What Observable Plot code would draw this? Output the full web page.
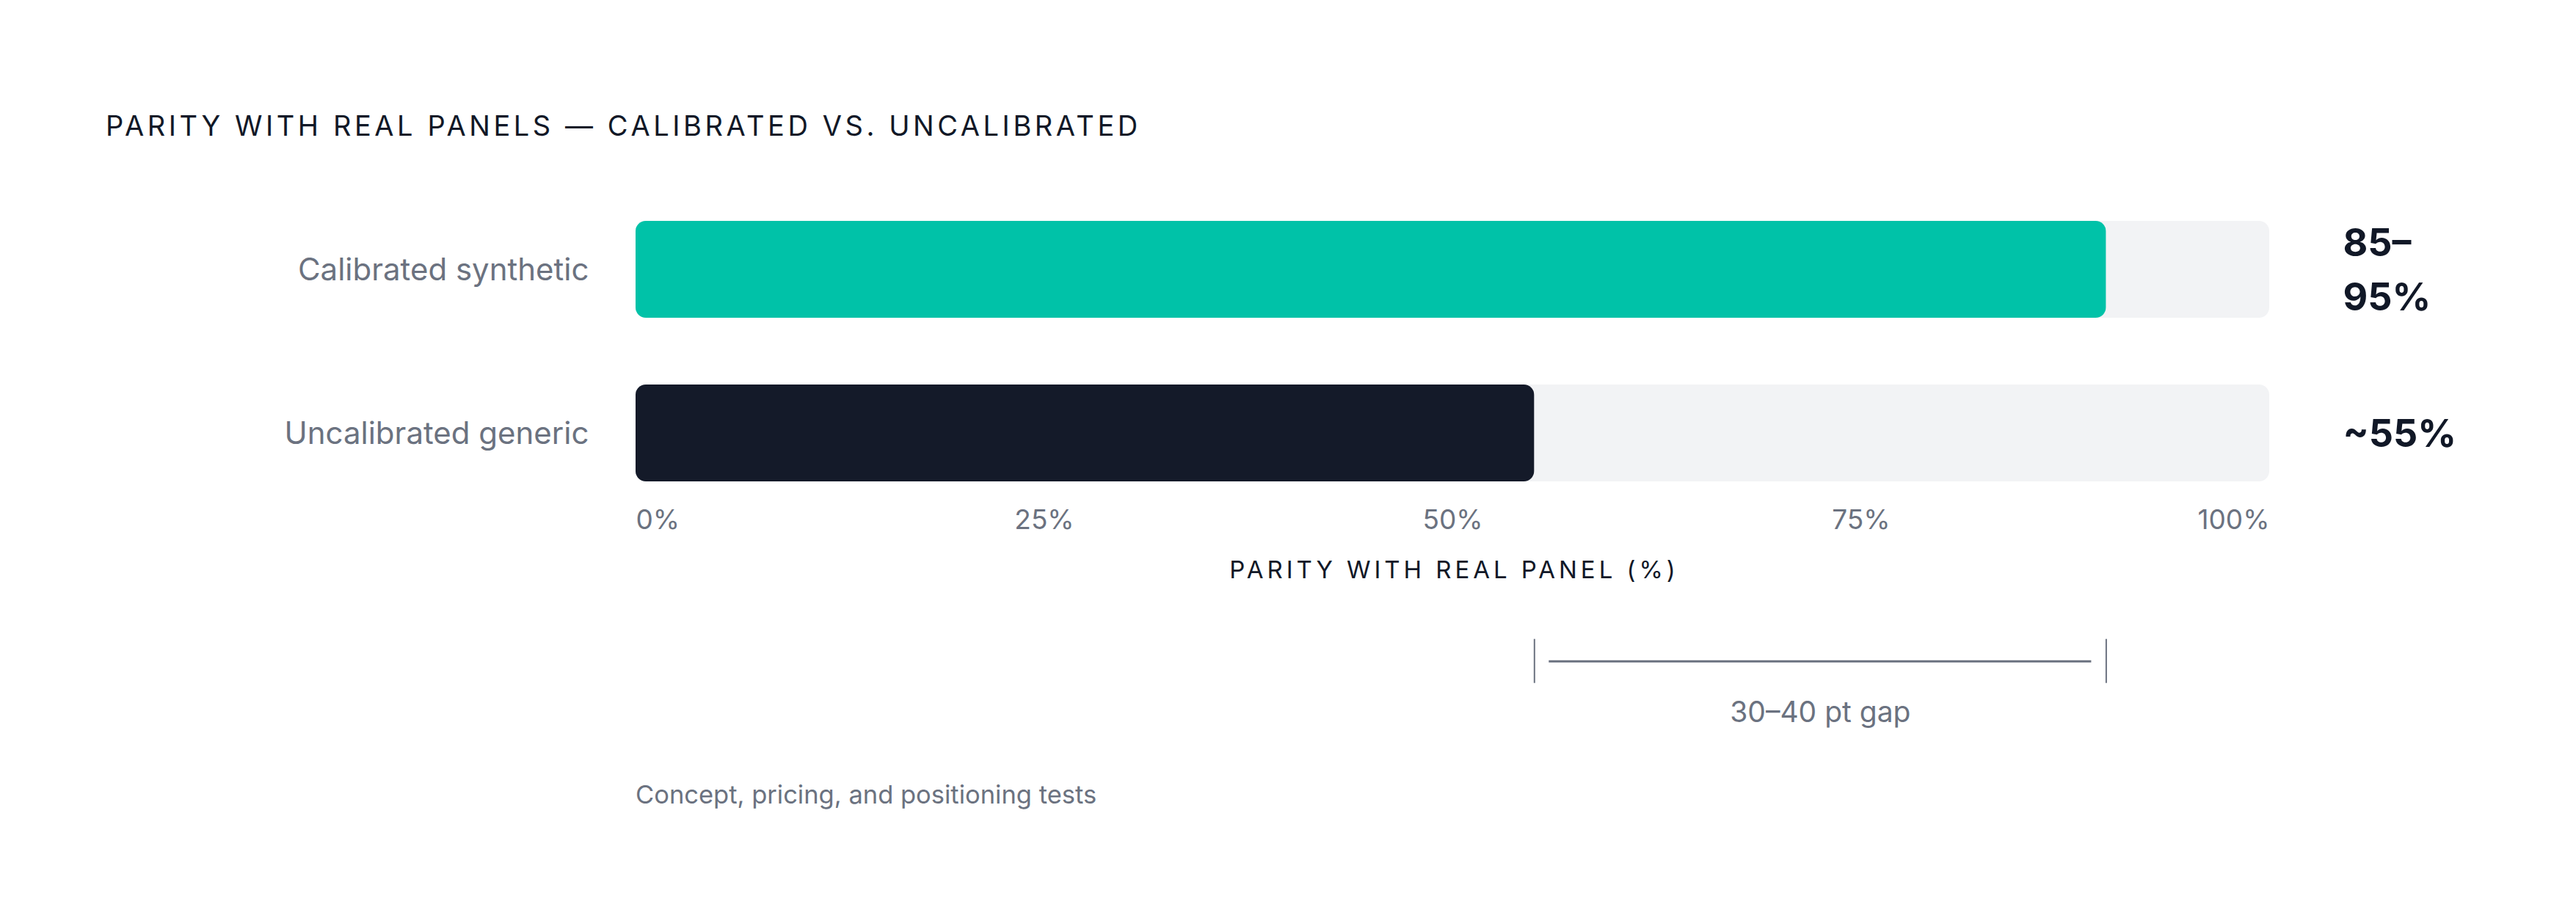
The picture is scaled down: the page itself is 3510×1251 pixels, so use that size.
<!DOCTYPE html>
<html>
<head>
<meta charset="utf-8">
<script src="https://cdn.jsdelivr.net/npm/d3@7"></script>
<script src="https://cdn.jsdelivr.net/npm/@observablehq/plot@0.6"></script>
<style>
  html, body { margin: 0; padding: 0; background: #ffffff; }
  body { width: 3510px; height: 1251px; overflow: hidden; font-family: Inter, "Noto Sans", sans-serif; }
  #title { box-sizing: border-box; height: 200px; padding-top: 151.5px; padding-left: 144px;
           font-size: 38px; line-height: 38px; letter-spacing: 0.12em; color: #111827; font-weight: 400; white-space: nowrap; }
  #chart svg, #gap svg { display: block; }
  #caption { margin-top: 47.4px; padding-left: 866px; font-size: 34.5px; line-height: 32px; color: #6B7280; white-space: nowrap; }
  [aria-label="axis title"], [aria-label="axis title"] text, text[aria-label="axis title"] { letter-spacing: 0.15em; }
</style>
</head>
<body>
<div id="title"></div>
<div id="chart"></div>
<div id="gap"></div>
<div id="caption"></div>
<script>
const titleText = "PARITY WITH REAL PANELS — CALIBRATED VS. UNCALIBRATED";
const categories = ["Calibrated synthetic", "Uncalibrated generic"];
const values = [90, 55];
const valueLabels = ["85–95%", "~55%"];
const barColors = ["#00C2A8", "#141A29"];
const tickValues = [0, 25, 50, 75, 100];
const tickLabels = ["0%", "25%", "50%", "75%", "100%"];
const axisLabel = "PARITY WITH REAL PANEL (%)";
const gapLabel = "30–40 pt gap";
const captionText = "Concept, pricing, and positioning tests";

document.getElementById("title").textContent = titleText;
document.getElementById("caption").textContent = captionText;

const scaleMax = 100;
const W = 3510, ML = 866, MR = 418;
const data = categories.map((c, i) => ({category: c, value: values[i], label: valueLabels[i], max: scaleMax}));
const ticks = tickValues.map((v, i) => ({v, t: tickLabels[i]}));
const font = "Inter, 'Noto Sans', sans-serif";

const chart = Plot.plot({
  width: W, height: 620,
  marginLeft: ML, marginRight: MR, marginTop: 100, marginBottom: 164,
  style: {fontFamily: font, background: "transparent", overflow: "visible"},
  x: {domain: [0, scaleMax], axis: null},
  y: {type: "band", domain: categories, paddingInner: 0.41, paddingOuter: 0, axis: null},
  color: {domain: categories, range: barColors},
  marks: [
    Plot.barX(data, {y: "category", x1: 0, x2: "max", fill: "#F2F3F5", rx: 14}),
    Plot.barX(data, {y: "category", x1: 0, x2: "value", fill: "category", rx: 14}),
    Plot.text(data, {y: "category", text: "category", frameAnchor: "left", dx: -64, dy: 1, textAnchor: "end",
                     fontSize: 42, fill: "#6B7280"}),
    Plot.text(data, {y: "category", text: d => d.label.length > 5 ? d.label.replace("–", "–\n") : d.label,
                     frameAnchor: "right", dx: 100, dy: -5, textAnchor: "start", lineAnchor: "middle",
                     lineHeight: 1.42, fontSize: 52, fontWeight: 700, fill: "#111827"}),
    Plot.text(ticks, {filter: (d, i) => i === 0, x: "v", text: "t", frameAnchor: "bottom", lineAnchor: "bottom",
                      dy: 64.7, textAnchor: "start", fontSize: 37, fill: "#6B7280"}),
    Plot.text(ticks, {filter: (d, i) => i > 0 && i < ticks.length - 1, x: "v", text: "t", frameAnchor: "bottom",
                      lineAnchor: "bottom", dy: 64.7, textAnchor: "middle", fontSize: 37, fill: "#6B7280"}),
    Plot.text(ticks, {filter: (d, i) => i === ticks.length - 1, x: "v", text: "t", frameAnchor: "bottom",
                      lineAnchor: "bottom", dy: 64.7, textAnchor: "end", fontSize: 37, fill: "#6B7280"}),
    Plot.text([axisLabel], {frameAnchor: "bottom", lineAnchor: "bottom", dy: 131, dx: 2, textAnchor: "middle",
                            fontSize: 33, fill: "#111827", ariaLabel: "axis title"})
  ]
});
document.getElementById("chart").appendChild(chart);
// letter-spacing for the axis title (Plot has no letterSpacing option)
d3.select(chart).selectAll("text").filter(function () { return this.textContent === axisLabel; })
  .style("letter-spacing", "0.15em");

// Gap annotation between the two bar values
const gapFrom = values[1], gapTo = values[0];
const gapEnds = [gapFrom, gapTo];
const gap = Plot.plot({
  width: W, height: 200,
  marginLeft: ML, marginRight: MR, marginTop: 50.7, marginBottom: 89.3,
  style: {fontFamily: font, background: "transparent", overflow: "visible"},
  x: {domain: [0, scaleMax], axis: null},
  y: {domain: [0, 1], axis: null},
  marks: [
    Plot.ruleX(gapEnds, {x: d => d, stroke: "#6B7280", strokeWidth: 2}),
    Plot.ruleY([{y: 0.5, a: gapFrom, b: gapTo}], {y: "y", x1: "a", x2: "b", insetLeft: 20, insetRight: 20,
                                                  stroke: "#6B7280", strokeWidth: 3}),
    Plot.text([gapLabel], {x: () => (gapFrom + gapTo) / 2, frameAnchor: "bottom", lineAnchor: "bottom", dy: 52.6,
                           textAnchor: "middle", fontSize: 39, fill: "#6B7280"})
  ]
});
document.getElementById("gap").appendChild(gap);
</script>
</body>
</html>
